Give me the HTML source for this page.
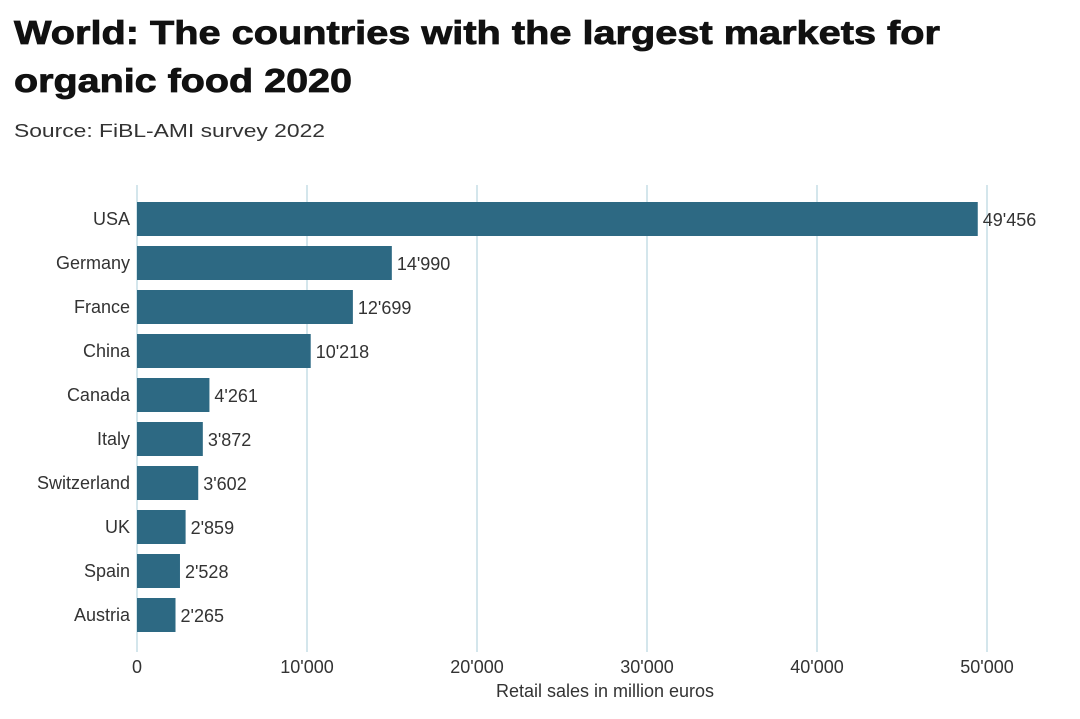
<!DOCTYPE html>
<html><head><meta charset="utf-8"><style>
body{margin:0;background:#fff;font-family:"Liberation Sans",Arial,sans-serif;}
svg text{font-family:"Liberation Sans",Arial,sans-serif;}
</style></head><body>
<svg id="c" width="1080" height="714" xmlns="http://www.w3.org/2000/svg">
<text x="14" y="44" font-size="33" font-weight="bold" fill="#111" stroke="#111" stroke-width="0.8" textLength="926" lengthAdjust="spacingAndGlyphs">World: The countries with the largest markets for</text>
<text x="14" y="92" font-size="33" font-weight="bold" fill="#111" stroke="#111" stroke-width="0.8" textLength="338" lengthAdjust="spacingAndGlyphs">organic food 2020</text>
<text x="14" y="137" font-size="18" fill="#333" textLength="311" lengthAdjust="spacingAndGlyphs">Source: FiBL-AMI survey 2022</text>
<g id="grid"></g><g id="bars"></g><g id="labels"></g>
<text x="605" y="697" font-size="18" fill="#333" text-anchor="middle">Retail sales in million euros</text>
</svg>
<script>
const categories=["USA","Germany","France","China","Canada","Italy","Switzerland","UK","Spain","Austria"];
const values=[49456,14990,12699,10218,4261,3872,3602,2859,2528,2265];
const valueLabels=["49'456","14'990","12'699","10'218","4'261","3'872","3'602","2'859","2'528","2'265"];
const ticks=[0,10000,20000,30000,40000,50000];
const tickLabels=["0","10'000","20'000","30'000","40'000","50'000"];
const NS="http://www.w3.org/2000/svg";
const x=v=>137+v*0.017;
const y=i=>202+i*44;
function mk(t,a,p){const e=document.createElementNS(NS,t);for(const k in a)e.setAttribute(k,a[k]);p.appendChild(e);return e;}
const g=document.getElementById('grid'),b=document.getElementById('bars'),l=document.getElementById('labels');
ticks.forEach((t,i)=>{
 const ln=mk('line',{x1:x(t),x2:x(t),y1:185,y2:652,stroke:'#c5dde5','stroke-width':1.5},g);
 
 
 const tx=mk('text',{x:x(t),y:673,'font-size':18,fill:'#333','text-anchor':'middle'},g);
 tx.textContent=tickLabels[i];
 
 
});
categories.forEach((c,i)=>{
 const r=mk('rect',{x:x(0),y:y(i),width:x(values[i])-x(0),height:34,fill:'#2d6983'},b);
 
 
 const cl=mk('text',{x:130,y:y(i)+23,'font-size':18,fill:'#333','text-anchor':'end'},l);
 cl.textContent=c;
 
 
 const vl=mk('text',{x:x(values[i])+5,y:y(i)+24,'font-size':18,fill:'#333'},l);
 vl.textContent=valueLabels[i];
 
 
});
</script>
</body></html>
